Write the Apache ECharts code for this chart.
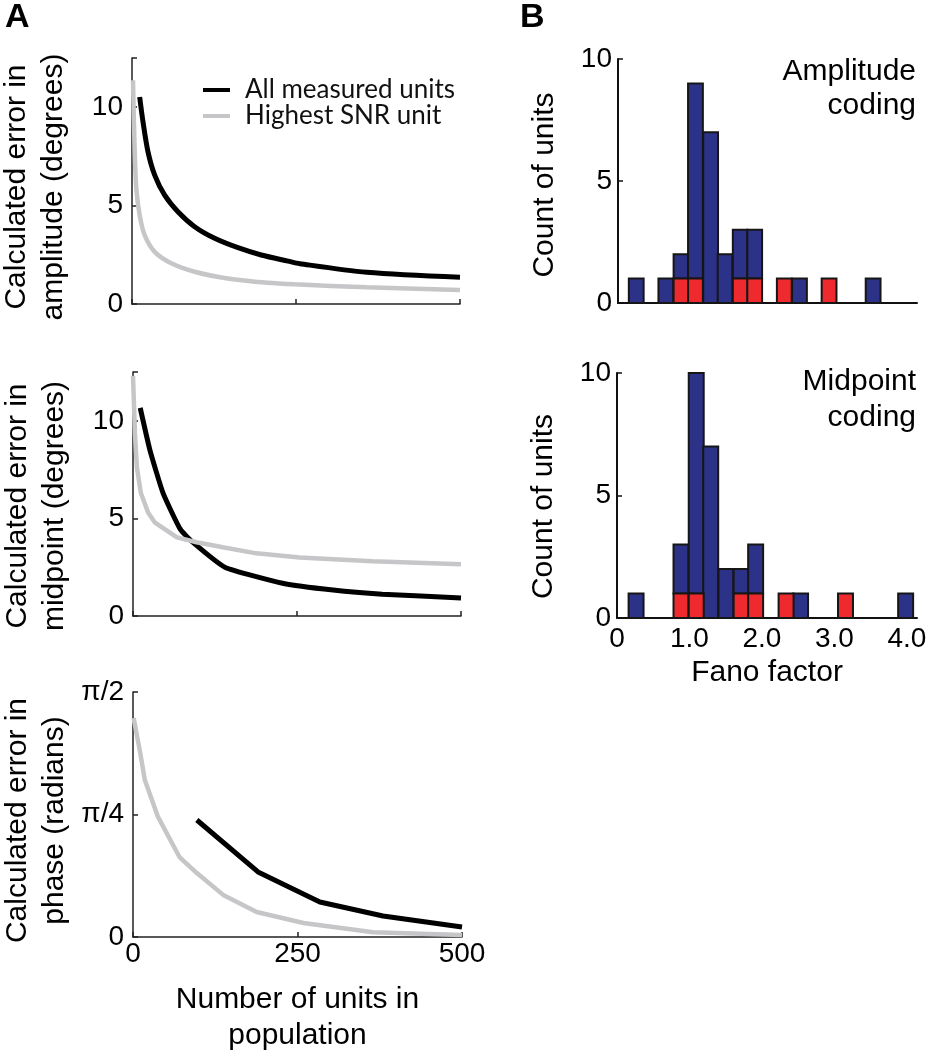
<!DOCTYPE html>
<html>
<head>
<meta charset="utf-8">
<script src="https://cdn.jsdelivr.net/npm/echarts@6/dist/echarts.min.js"></script>
<style>
html,body{margin:0;padding:0;background:#fff;}
#c{width:932px;height:1050px;}
</style>
</head>
<body>
<div id="c"></div>
<script>
// ---------- Panel A data ----------
const ampAllN    = [11.7, 16.8, 24.4, 34.6, 49.8, 70, 95.5, 126, 161.6, 197, 238, 256, 358, 500];
const ampAllErr  = [10.52, 9.25, 7.73, 6.55, 5.53, 4.69, 3.93, 3.34, 2.86, 2.49, 2.18, 2.05, 1.61, 1.36];
const ampBestN   = [1.5, 4, 6.6, 11.7, 19.3, 34.6, 60, 95.5, 146, 207, 248, 358, 500];
const ampBestErr = [11.37, 7.9, 5.87, 4.52, 3.5, 2.65, 2.07, 1.64, 1.30, 1.08, 1.0, 0.85, 0.71];

const midAllN    = [11, 26, 46, 72, 91, 140, 228, 305, 380, 500];
const midAllErr  = [10.66, 8.47, 6.28, 4.45, 3.78, 2.5, 1.68, 1.33, 1.12, 0.92];
const midBestN   = [0, 3, 6, 12, 23, 33, 67, 97, 137, 188, 254, 365, 500];
const midBestErr = [12.3, 9.3, 7.6, 6.3, 5.3, 4.8, 4.03, 3.78, 3.52, 3.21, 3.0, 2.8, 2.65];

const phaseAllN    = [97, 190, 284, 380, 500];
const phaseAllErr  = [0.75, 0.417, 0.224, 0.135, 0.064];
const phaseBestN   = [1, 11, 18, 38, 71, 97, 137, 188, 259, 365, 500];
const phaseBestErr = [1.404, 1.18, 1.006, 0.77, 0.51, 0.41, 0.27, 0.16, 0.09, 0.03, 0.013];

const popTicks = [0, 250, 500];

// ---------- Panel B data (Fano factor histograms) ----------
const ampBinLeft  = [0.15, 0.36, 0.56, 0.77, 0.97, 1.18, 1.38, 1.59, 1.79, 2.00, 2.20, 2.41, 2.61, 2.82, 3.02, 3.23, 3.43];
const ampBinWidth = 0.205;
const ampBlue     = [1, 0, 1, 1, 8, 7, 2, 2, 2, 0, 0, 1, 0, 0, 0, 0, 1];
const ampRed      = [0, 0, 0, 1, 1, 0, 0, 1, 1, 0, 1, 0, 0, 1, 0, 0, 0];

const midBinLeft  = [0.16, 0.37, 0.57, 0.78, 0.99, 1.19, 1.40, 1.61, 1.81, 2.02, 2.23, 2.43, 2.64, 2.84, 3.05, 3.26, 3.46, 3.67, 3.88];
const midBinWidth = 0.2065;
const midBlue     = [1, 0, 0, 2, 9, 7, 2, 1, 2, 0, 0, 1, 0, 0, 0, 0, 0, 0, 1];
const midRed      = [0, 0, 0, 1, 1, 0, 0, 1, 1, 0, 1, 0, 0, 0, 1, 0, 0, 0, 0];

const fanoTicks = [0, 1, 2, 3, 4];

// ---------- styling ----------
const FONT = 'Arial, "Liberation Sans", Helvetica, sans-serif';
const BLACK = '#000000';
const GRAY = '#c6c6c8';
const BLUE = '#2c3287';
const RED = '#ee2a2e';

function pairs(xs, ys){ return xs.map((x,i)=>[x, ys[i]]); }

function histItems(left, width, lo, hi){
  const out = [];
  for (let i = 0; i < left.length; i++){
    if (hi[i] - lo[i] > 0) out.push([left[i], left[i] + width, lo[i], hi[i]]);
  }
  return out;
}
function histLayers(left, width, blue, red){
  const zero = red.map(()=>0);
  const top = red.map((r,i)=>r + blue[i]);
  return {
    red: histItems(left, width, zero, red),
    blue: histItems(left, width, red, top)
  };
}
const ampHist = histLayers(ampBinLeft, ampBinWidth, ampBlue, ampRed);
const midHist = histLayers(midBinLeft, midBinWidth, midBlue, midRed);

function renderBar(params, api){
  const x0 = api.value(0), x1 = api.value(1), y0 = api.value(2), y1 = api.value(3);
  const p0 = api.coord([x0, y1]);
  const p1 = api.coord([x1, y0]);
  return {
    type: 'rect',
    shape: {x: p0[0], y: p0[1], width: p1[0] - p0[0], height: p1[1] - p0[1]},
    style: {fill: api.visual('color'), stroke: '#161616', lineWidth: 2}
  };
}

const tickLabel = {color: BLACK, fontFamily: FONT, fontSize: 28};
const nameStyle = {color: BLACK, fontFamily: FONT, fontSize: 30, lineHeight: 37};

function lineYAxis(idx, name, pad, max, interval, formatter){
  return {
    type: 'value', gridIndex: idx, min: 0, max: max, interval: interval,
    name: name, nameLocation: 'middle', nameRotate: 90, nameGap: 60,
    nameTextStyle: Object.assign({}, nameStyle, {padding: [0, pad, 0, 0]}),
    axisLine: {show: true, lineStyle: {color: '#222', width: 1.5}},
    axisTick: {show: true, inside: true, length: 5, lineStyle: {color: '#222', width: 1.5}},
    axisLabel: Object.assign({}, tickLabel, {margin: 9, formatter: formatter}),
    splitLine: {show: false}
  };
}
function lineXAxis(idx, showLabels, name){
  const ax = {
    type: 'value', gridIndex: idx, min: popTicks[0], max: popTicks[popTicks.length - 1],
    interval: popTicks[1] - popTicks[0],
    axisLine: {show: true, onZero: false, lineStyle: {color: '#222', width: 1.5}},
    axisTick: {show: true, inside: true, length: 5, lineStyle: {color: '#222', width: 1.5}},
    axisLabel: Object.assign({}, tickLabel, {show: showLabels, margin: 3}),
    splitLine: {show: false}
  };
  if (name){
    ax.name = name; ax.nameLocation = 'middle'; ax.nameGap = 45;
    ax.nameTextStyle = Object.assign({}, nameStyle, {lineHeight: 36});
  }
  return ax;
}
function degFmt(v){ return (Math.abs(v % 5) < 1e-6) ? String(v) : ''; }
function phaseFmt(v){
  if (Math.abs(v) < 1e-6) return '0';
  if (Math.abs(v - Math.PI/4) < 0.01) return 'π/4';
  if (Math.abs(v - Math.PI/2) < 0.001) return 'π/2';
  return '';
}
function histYAxis(idx, pad){
  return {
    type: 'value', gridIndex: idx, min: 0, max: 10, interval: 5,
    name: 'Count of units', nameLocation: 'middle', nameRotate: 90, nameGap: 55,
    nameTextStyle: Object.assign({}, nameStyle, {padding: [0, pad, 0, 0]}),
    axisLine: {show: true, lineStyle: {color: '#111', width: 2}},
    axisTick: {show: true, inside: true, length: 5, lineStyle: {color: '#111', width: 1.5}},
    axisLabel: Object.assign({}, tickLabel, {margin: 6}),
    splitLine: {show: false}
  };
}
function histXAxis(idx, showLabels, name){
  const ax = {
    type: 'value', gridIndex: idx, min: fanoTicks[0], max: 4.14, interval: fanoTicks[1] - fanoTicks[0],
    axisLine: {show: true, onZero: false, lineStyle: {color: '#111', width: 2}},
    axisTick: {show: false},
    axisLabel: Object.assign({}, tickLabel, {show: showLabels, margin: 7,
      formatter: v => fanoTicks.indexOf(v) < 0 ? '' : (v === 0 ? '0' : v.toFixed(1))}),
    splitLine: {show: false}
  };
  if (name){
    ax.name = name; ax.nameLocation = 'middle'; ax.nameGap = 36;
    ax.nameTextStyle = Object.assign({}, nameStyle);
  }
  return ax;
}

const gridBase = {containLabel: false, outerBoundsMode: 'none'};
const option = {
  backgroundColor: '#ffffff',
  animation: false,
  grid: [
    Object.assign({left: 132, top: 58, width: 328, height: 246}, gridBase),
    Object.assign({left: 133, top: 372, width: 328, height: 244}, gridBase),
    Object.assign({left: 133, top: 692, width: 329, height: 245}, gridBase),
    Object.assign({left: 618, top: 59, width: 299, height: 244}, gridBase),
    Object.assign({left: 617, top: 373, width: 300, height: 245}, gridBase)
  ],
  xAxis: [
    lineXAxis(0, false),
    lineXAxis(1, false),
    lineXAxis(2, true, 'Number of units in\npopulation'),
    histXAxis(3, false),
    histXAxis(4, true, 'Fano factor')
  ],
  yAxis: [
    lineYAxis(0, 'Calculated error in\namplitude (degrees)', 12, 12.5, 5, degFmt),
    lineYAxis(1, 'Calculated error in\nmidpoint (degrees)', 24, 12.5, 5, degFmt),
    lineYAxis(2, 'Calculated error in\nphase (radians)', 12, Math.PI/2, Math.PI/4, phaseFmt),
    histYAxis(3, 8),
    histYAxis(4, 22)
  ],
  legend: {
    left: 198, top: 72, orient: 'vertical', itemWidth: 27, itemHeight: 4, itemGap: 0,
    icon: 'rect',
    selectedMode: false,
    textStyle: {color: '#111', fontFamily: 'Lato, "Open Sans", sans-serif', fontSize: 26, padding: [0, 0, 0, 10]},
    data: [
      {name: 'All measured units', icon: 'rect', itemStyle: {color: BLACK}},
      {name: 'Highest SNR unit', icon: 'rect', itemStyle: {color: GRAY}}
    ]
  },
  graphic: [
    {type: 'text', left: 5, top: 1, style: {text: 'A', font: 'bold 34px ' + FONT, fill: BLACK}},
    {type: 'text', left: 520, top: 1, style: {text: 'B', font: 'bold 34px ' + FONT, fill: BLACK}},
    {type: 'text', x: 916, y: 89, style: {text: 'Amplitude\ncoding', font: '30px ' + FONT, fill: BLACK,
      align: 'right', verticalAlign: 'middle', lineHeight: 34}},
    {type: 'text', x: 916, y: 400, style: {text: 'Midpoint\ncoding', font: '30px ' + FONT, fill: BLACK,
      align: 'right', verticalAlign: 'middle', lineHeight: 36}}
  ],
  series: [
    {name: 'Highest SNR unit', type: 'line', xAxisIndex: 0, yAxisIndex: 0, data: pairs(ampBestN, ampBestErr),
      symbol: 'none', smooth: 0.3, lineStyle: {color: GRAY, width: 4.5}, itemStyle: {color: GRAY}, z: 2},
    {name: 'All measured units', type: 'line', xAxisIndex: 0, yAxisIndex: 0, data: pairs(ampAllN, ampAllErr),
      symbol: 'none', smooth: 0.3, lineStyle: {color: BLACK, width: 5}, itemStyle: {color: BLACK}, z: 3},
    {name: 'Highest SNR unit', type: 'line', xAxisIndex: 1, yAxisIndex: 1, data: pairs(midBestN, midBestErr),
      symbol: 'none', lineStyle: {color: GRAY, width: 4.5}, itemStyle: {color: GRAY}, z: 3},
    {name: 'All measured units', type: 'line', xAxisIndex: 1, yAxisIndex: 1, data: pairs(midAllN, midAllErr),
      symbol: 'none', smooth: 0.15, lineStyle: {color: BLACK, width: 5}, itemStyle: {color: BLACK}, z: 2},
    {name: 'Highest SNR unit', type: 'line', xAxisIndex: 2, yAxisIndex: 2, data: pairs(phaseBestN, phaseBestErr),
      symbol: 'none', lineStyle: {color: GRAY, width: 4.5}, itemStyle: {color: GRAY}, z: 2},
    {name: 'All measured units', type: 'line', xAxisIndex: 2, yAxisIndex: 2, data: pairs(phaseAllN, phaseAllErr),
      symbol: 'none', lineStyle: {color: BLACK, width: 5}, itemStyle: {color: BLACK}, z: 3},
    {type: 'custom', xAxisIndex: 3, yAxisIndex: 3, renderItem: renderBar, data: ampHist.blue,
      itemStyle: {color: BLUE}, encode: {x: [0, 1], y: [2, 3]}, z: 3},
    {type: 'custom', xAxisIndex: 3, yAxisIndex: 3, renderItem: renderBar, data: ampHist.red,
      itemStyle: {color: RED}, encode: {x: [0, 1], y: [2, 3]}, z: 3},
    {type: 'custom', xAxisIndex: 4, yAxisIndex: 4, renderItem: renderBar, data: midHist.blue,
      itemStyle: {color: BLUE}, encode: {x: [0, 1], y: [2, 3]}, z: 3},
    {type: 'custom', xAxisIndex: 4, yAxisIndex: 4, renderItem: renderBar, data: midHist.red,
      itemStyle: {color: RED}, encode: {x: [0, 1], y: [2, 3]}, z: 3}
  ]
};

const chart = echarts.init(document.getElementById('c'), null, {renderer: 'canvas'});
chart.setOption(option);
</script>
</body>
</html>
